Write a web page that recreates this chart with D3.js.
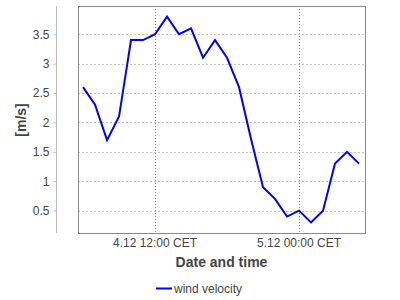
<!DOCTYPE html>
<meta charset="utf-8">
<style>
  body { margin: 0; background: #fff; }
  text { font-family: "Liberation Sans", Arial, sans-serif; fill: #444; }
</style>
<svg width="400" height="300"></svg>
<script src="https://cdn.jsdelivr.net/npm/d3@7"></script>
<script>
// hourly readings, 4.12 06:00 .. 5.12 05:00
var hours = [6,7,8,9,10,11,12,13,14,15,16,17,18,19,20,21,22,23,24,25,26,27,28,29];
var windVelocity = [2.6,2.3,1.7,2.1,3.4,3.4,3.5,3.8,3.5,3.6,3.1,3.4,3.1,2.6,1.72,0.9,0.7,0.4,0.5,0.3,0.5,1.3,1.5,1.3];
var yTicks = [0.5,1,1.5,2,2.5,3,3.5];
var xTickHours = [12, 24];
var xTickLabels = ["4.12 12:00 CET", "5.12 00:00 CET"];

var svg = d3.select("svg"),
    margin = {top: 6, right: 35, bottom: 67, left: 78},
    width = +svg.attr("width"),
    height = +svg.attr("height");

var base = new Date(2012, 11, 4, 0, 0);
function toDate(h) { return new Date(base.getTime() + h * 3600000); }

var x = d3.scaleTime()
    .domain([toDate(5.58), toDate(29.5)])
    .range([margin.left, width - margin.right]);

var y = d3.scaleLinear()
    .domain([0.12, 3.98])
    .range([height - margin.bottom, margin.top]);

// horizontal grid
svg.append("g")
    .selectAll("line")
    .data(yTicks)
    .enter().append("line")
    .attr("x1", margin.left)
    .attr("x2", width - margin.right)
    .attr("y1", function(d) { return Math.round(y(d)) + 0.5; })
    .attr("y2", function(d) { return Math.round(y(d)) + 0.5; })
    .attr("stroke", "#c4c4c4")
    .attr("stroke-dasharray", "2,2");

// vertical grid
svg.append("g")
    .selectAll("line")
    .data(xTickHours)
    .enter().append("line")
    .attr("x1", function(d) { return Math.round(x(toDate(d))) + 0.5; })
    .attr("x2", function(d) { return Math.round(x(toDate(d))) + 0.5; })
    .attr("y1", margin.top)
    .attr("y2", height - margin.bottom)
    .attr("stroke", "#888")
    .attr("stroke-dasharray", "1,2");

// plot border
svg.append("rect")
    .attr("x", margin.left + 0.5)
    .attr("y", margin.top + 0.5)
    .attr("width", width - margin.right - margin.left)
    .attr("height", height - margin.bottom - margin.top)
    .attr("fill", "none")
    .attr("stroke", "#888");

// y axis, detached on the left
var yAxis = svg.append("g")
    .attr("transform", "translate(56.5,0)")
    .call(d3.axisLeft(y).tickValues(yTicks).tickSize(3).tickPadding(4)
        .tickFormat(function(d) { return String(d); }));
yAxis.select(".domain").attr("stroke", "#bbb").attr("d", "M0," + margin.top + "V" + (height - margin.bottom));
yAxis.selectAll(".tick line").attr("stroke", "#bbb");
yAxis.selectAll(".tick text").style("font-size", "12px").attr("fill", "#444");

// x tick labels
svg.append("g")
    .selectAll("text")
    .data(xTickHours)
    .enter().append("text")
    .attr("x", function(d) { return x(toDate(d)); })
    .attr("y", 247)
    .style("text-anchor", "middle")
    .style("font-size", "12px")
    .text(function(d, i) { return xTickLabels[i]; });

// the line
var line = d3.line()
    .x(function(d, i) { return x(toDate(hours[i])); })
    .y(function(d) { return y(d); });

svg.append("path")
    .datum(windVelocity)
    .attr("fill", "none")
    .attr("stroke", "#0000ff")
    .attr("stroke-width", 2)
    .attr("stroke-linejoin", "miter")
    .attr("d", line);

// axis titles
svg.append("text")
    .attr("x", (margin.left + width - margin.right) / 2)
    .attr("y", 267)
    .style("text-anchor", "middle")
    .style("font-size", "14px")
    .style("font-weight", "bold")
    .text("Date and time");

svg.append("text")
    .attr("transform", "translate(26,120) rotate(-90)")
    .style("text-anchor", "middle")
    .style("font-size", "14px")
    .style("font-weight", "bold")
    .text("[m/s]");

// legend
svg.append("line")
    .attr("x1", 156)
    .attr("x2", 172)
    .attr("y1", 288.5)
    .attr("y2", 288.5)
    .attr("stroke", "#0000ff")
    .attr("stroke-width", 2);
svg.append("text")
    .attr("x", 174)
    .attr("y", 293)
    .style("font-size", "12px")
    .text("wind velocity");
</script>
